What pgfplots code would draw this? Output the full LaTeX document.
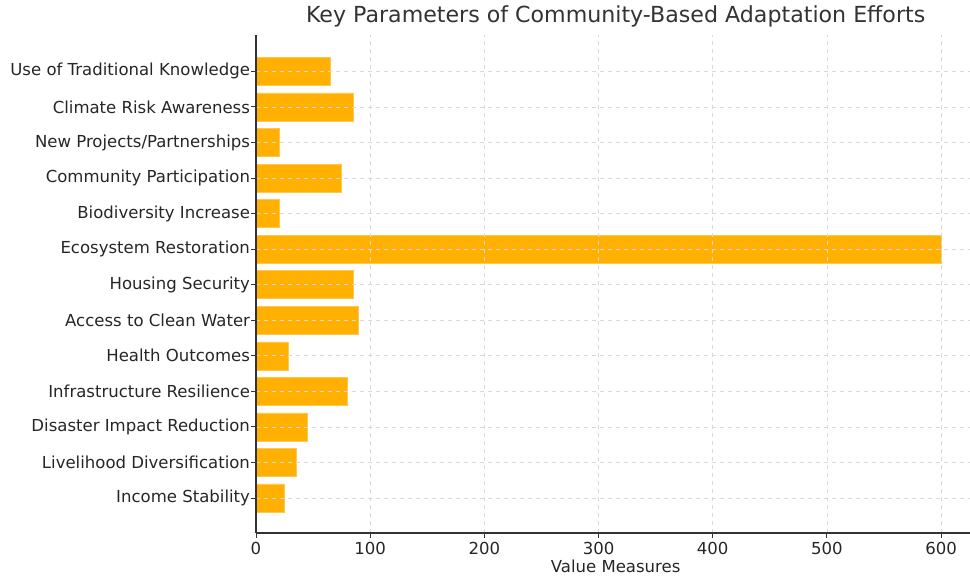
\documentclass[border=0pt]{standalone}
\usepackage{pgfplots}
\pgfplotsset{compat=1.18}
\usepackage{fontspec}
\setmainfont{DejaVu Sans}
\definecolor{barc}{HTML}{FFB000}
\definecolor{txt}{HTML}{262626}
\definecolor{spine}{HTML}{333333}
\pgfplotstableread{
idx val
0 25
1 35
2 45
3 80
4 28
5 90
6 85
7 600
8 20
9 75
10 20
11 85
12 65
}\datatable
\begin{document}
\begin{tikzpicture}
\useasboundingbox (-192pt,-34.5pt) rectangle (535.5pt,399.75pt);
\begin{axis}[
  at={(0,0)}, anchor=south west,
  width=539.5pt, height=373.7pt, scale only axis,
  xbar, bar width=21pt,
  xmin=0, xmax=630, ymin=-0.985, ymax=13.03,
  ytick={0,...,12},
  yticklabels={Income Stability, Livelihood Diversification, Disaster Impact Reduction, Infrastructure Resilience, Health Outcomes, Access to Clean Water, Housing Security, Ecosystem Restoration, Biodiversity Increase, Community Participation, New Projects/Partnerships, Climate Risk Awareness, Use of Traditional Knowledge},
  xtick={0,100,...,600},
  axis x line*=bottom, axis y line*=left,
  axis line style={draw=spine, line width=0.9pt, -},
  tick align=outside, major tick length=3.6pt,
  tick style={draw=spine, line width=0.7pt},
  grid=major, grid style={dashed, line width=0.45pt, gray!30},
  axis on top,
  /pgf/number format/assume math mode=true,
  ticklabel style={font=\fontsize{12.4}{14}\selectfont, text=txt},
  yticklabel style={xshift=2.6pt},
  xlabel={Value Measures},
  xlabel style={font=\fontsize{12.4}{14}\selectfont, text=txt, yshift=3pt},
  title={Key Parameters of Community-Based Adaptation Efforts},
  title style={font=\fontsize{16.6}{19}\selectfont, text=spine, yshift=-4pt},
]
\addplot[fill=barc, draw=barc!70!white, line width=0.4pt] table[x=val, y=idx] {\datatable};
\end{axis}
\end{tikzpicture}
\end{document}
